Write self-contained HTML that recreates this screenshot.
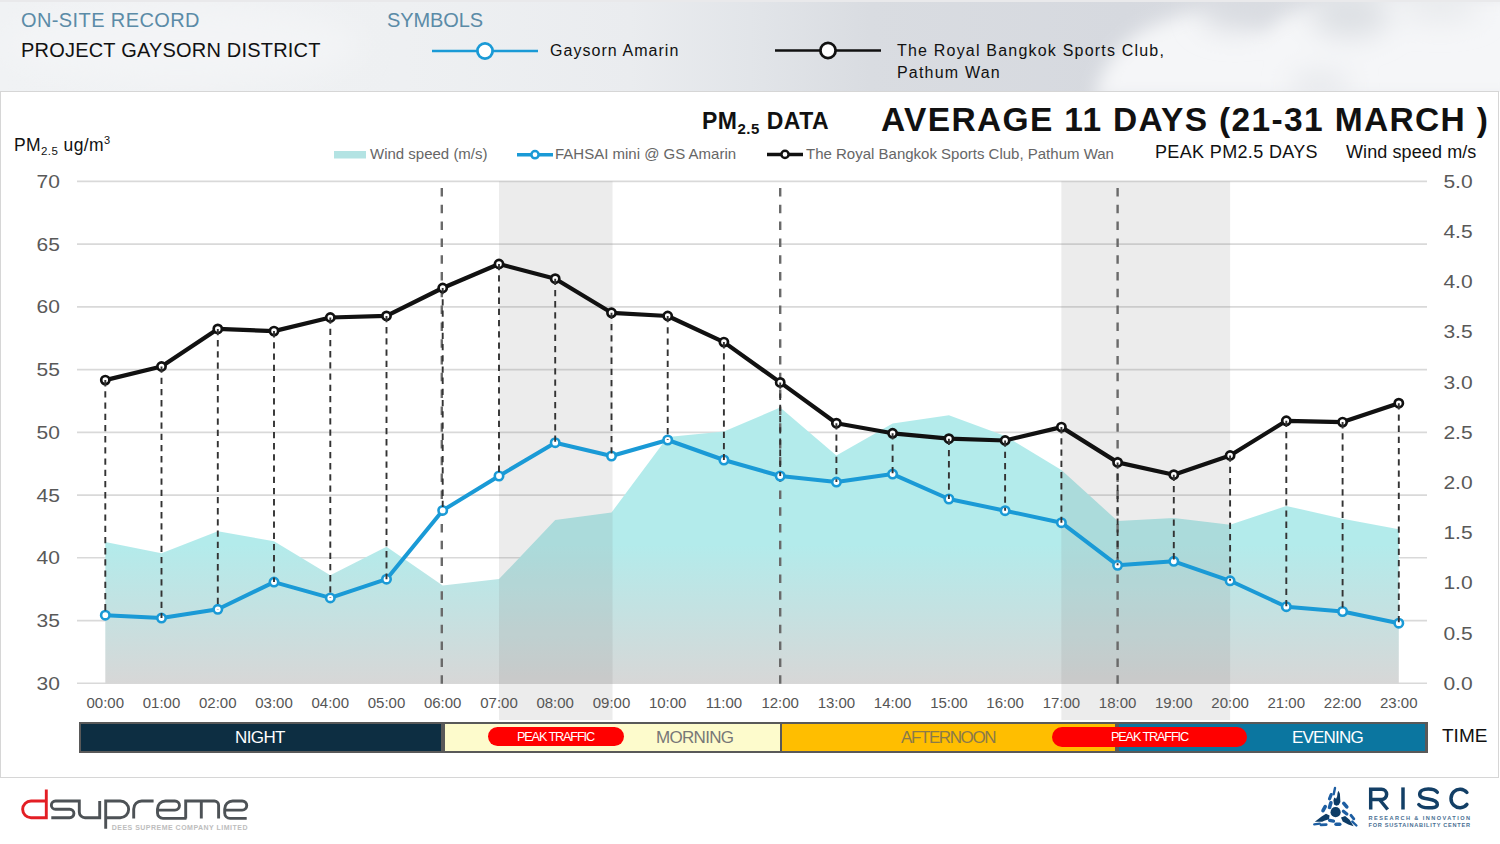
<!DOCTYPE html>
<html><head><meta charset="utf-8">
<style>
html,body{margin:0;padding:0;}
body{width:1500px;height:844px;position:relative;overflow:hidden;background:#fff;font-family:"Liberation Sans",sans-serif;}
.hdr{position:absolute;left:0;top:0;width:1500px;height:92px;}
.panel{position:absolute;left:0;top:91px;width:1496.6px;height:684.8px;border:1.7px solid #d6d6d6;background:#fff;}
.t{position:absolute;white-space:nowrap;}
svg.c{position:absolute;left:0;top:0;}
.yl{font-size:17.5px;fill:#595959;}
.xl{font-size:15px;fill:#555;}
</style></head><body>
<svg class="hdr" width="1500" height="92" viewBox="0 0 1500 92">
<defs>
<linearGradient id="hg" x1="0" y1="0" x2="1500" y2="0" gradientUnits="userSpaceOnUse">
<stop offset="0" stop-color="#f0f2f4"/><stop offset="0.27" stop-color="#eef0f2"/><stop offset="0.42" stop-color="#eaecef"/>
<stop offset="0.5" stop-color="#e2e5e9"/><stop offset="0.58" stop-color="#d9dce1"/><stop offset="0.75" stop-color="#d6d9df"/><stop offset="1" stop-color="#dfe1e5"/>
</linearGradient>
<filter id="bl" x="-50%" y="-50%" width="200%" height="200%"><feGaussianBlur stdDeviation="9"/></filter>
<filter id="bl2" x="-50%" y="-50%" width="200%" height="200%"><feGaussianBlur stdDeviation="14"/></filter>
</defs>
<rect width="1500" height="92" fill="url(#hg)"/>
<g filter="url(#bl)" fill="#f5f6f8">
<path d="M1095,100 C1100,60 1130,30 1170,20 C1200,5 1240,10 1260,30 C1290,10 1330,0 1380,-5 L1520,-5 L1520,100 Z"/>
</g>
<g filter="url(#bl2)">
<ellipse cx="1235" cy="12" rx="35" ry="18" fill="#d9dce1"/>
<ellipse cx="1350" cy="15" rx="40" ry="22" fill="#dcdfe3"/>
<ellipse cx="1440" cy="8" rx="40" ry="12" fill="#e6e8eb"/>
<ellipse cx="1320" cy="85" rx="30" ry="12" fill="#e4e6ea"/>
<ellipse cx="180" cy="45" rx="180" ry="40" fill="#f3f4f6"/>
</g>
<rect width="1500" height="2" fill="#e9e9eb"/>
</svg>
<div class="t" style="left:21px;top:8.5px;font-size:20px;color:#5b8ba7;letter-spacing:0.4px;">ON-SITE RECORD</div>
<div class="t" style="left:21px;top:39px;font-size:20px;color:#111;letter-spacing:0.2px;">PROJECT GAYSORN DISTRICT</div>
<div class="t" style="left:387px;top:9px;font-size:20px;color:#5b8ba7;letter-spacing:-0.1px;">SYMBOLS</div>
<div class="t" style="left:550px;top:42px;font-size:16px;color:#111;letter-spacing:1.05px;">Gaysorn Amarin</div>
<div class="t" style="left:897px;top:40px;font-size:16px;line-height:22.4px;color:#111;letter-spacing:1.2px;">The Royal Bangkok Sports Club,<br>Pathum Wan</div>
<div class="panel"></div>
<svg class="c" width="1500" height="844" viewBox="0 0 1500 844">
<line x1="432" y1="51" x2="538" y2="51" stroke="#1a9ad6" stroke-width="2.5"/>
<circle cx="485" cy="51" r="7.6" fill="#fff" stroke="#1a9ad6" stroke-width="2.8"/>
<line x1="775" y1="50.5" x2="881" y2="50.5" stroke="#111" stroke-width="2.5"/>
<circle cx="828" cy="50.5" r="7.6" fill="#fff" stroke="#111" stroke-width="2.8"/>
<defs><linearGradient id="wg" x1="0" y1="545" x2="0" y2="683.3" gradientUnits="userSpaceOnUse"><stop offset="0" stop-color="#b3ebeb"/><stop offset="1" stop-color="#d7d7d7"/></linearGradient></defs>
<line x1="77" y1="181.4" x2="1427" y2="181.4" stroke="#d9d9d9" stroke-width="1.6"/>
<line x1="77" y1="244.1" x2="1427" y2="244.1" stroke="#d9d9d9" stroke-width="1.6"/>
<line x1="77" y1="306.9" x2="1427" y2="306.9" stroke="#d9d9d9" stroke-width="1.6"/>
<line x1="77" y1="369.6" x2="1427" y2="369.6" stroke="#d9d9d9" stroke-width="1.6"/>
<line x1="77" y1="432.4" x2="1427" y2="432.4" stroke="#d9d9d9" stroke-width="1.6"/>
<line x1="77" y1="495.1" x2="1427" y2="495.1" stroke="#d9d9d9" stroke-width="1.6"/>
<line x1="77" y1="557.8" x2="1427" y2="557.8" stroke="#d9d9d9" stroke-width="1.6"/>
<line x1="77" y1="620.6" x2="1427" y2="620.6" stroke="#d9d9d9" stroke-width="1.6"/>
<line x1="77" y1="683.3" x2="1427" y2="683.3" stroke="#d9d9d9" stroke-width="1.6"/>
<polygon points="105.3,683.5999999999999 105.3,542.1 161.5,553.3 217.8,531.2 274.0,541.3 330.3,575.2 386.5,546.7 442.7,585.4 499.0,579.1 555.2,520.0 611.5,512.5 667.7,437.0 723.9,431.5 780.2,407.5 836.4,455.5 892.6,423.5 948.9,415.3 1005.1,436.0 1061.4,470.0 1117.6,521.0 1173.8,517.9 1230.1,524.8 1286.3,505.9 1342.6,518.7 1398.8,529.3 1398.8,683.5999999999999" fill="url(#wg)"/>
<rect x="499.0" y="181.4" width="113.5" height="538.6" fill="#808080" fill-opacity="0.15"/>
<rect x="1061.4" y="181.4" width="168.7" height="538.6" fill="#808080" fill-opacity="0.15"/>
<line x1="441.8" y1="188" x2="441.8" y2="685" stroke="#6a6a6a" stroke-width="2.4" stroke-dasharray="8.5 8.3"/>
<line x1="780.2" y1="188" x2="780.2" y2="685" stroke="#6a6a6a" stroke-width="2.4" stroke-dasharray="8.5 8.3"/>
<line x1="1117.6" y1="188" x2="1117.6" y2="685" stroke="#6a6a6a" stroke-width="2.4" stroke-dasharray="8.5 8.3"/>
<polyline points="105.3,615.2 161.5,618.1 217.8,609.3 274.0,582.1 330.3,597.9 386.5,579.2 442.7,510.4 499.0,476.0 555.2,442.7 611.5,456.0 667.7,440.0 723.9,460.0 780.2,476.0 836.4,482.1 892.6,474.1 948.9,499.0 1005.1,510.7 1061.4,522.7 1117.6,565.3 1173.8,561.3 1230.1,580.8 1286.3,606.7 1342.6,611.5 1398.8,623.2" fill="none" stroke="#1a9ad6" stroke-width="4" stroke-linejoin="round"/>
<polyline points="105.3,380.1 161.5,366.5 217.8,328.9 274.0,331.1 330.3,317.5 386.5,315.9 442.7,288.0 499.0,264.0 555.2,278.7 611.5,312.8 667.7,316.0 723.9,342.1 780.2,382.4 836.4,423.2 892.6,433.3 948.9,438.7 1005.1,440.5 1061.4,427.1 1117.6,462.4 1173.8,474.7 1230.1,455.5 1286.3,420.8 1342.6,422.1 1398.8,403.2" fill="none" stroke="#111" stroke-width="4.2" stroke-linejoin="round"/>
<circle cx="105.3" cy="615.2" r="4.2" fill="#fff" stroke="#1a9ad6" stroke-width="2.6"/>
<circle cx="105.3" cy="380.1" r="4.1" fill="#fff" stroke="#111" stroke-width="2.7"/>
<circle cx="161.5" cy="618.1" r="4.2" fill="#fff" stroke="#1a9ad6" stroke-width="2.6"/>
<circle cx="161.5" cy="366.5" r="4.1" fill="#fff" stroke="#111" stroke-width="2.7"/>
<circle cx="217.8" cy="609.3" r="4.2" fill="#fff" stroke="#1a9ad6" stroke-width="2.6"/>
<circle cx="217.8" cy="328.9" r="4.1" fill="#fff" stroke="#111" stroke-width="2.7"/>
<circle cx="274.0" cy="582.1" r="4.2" fill="#fff" stroke="#1a9ad6" stroke-width="2.6"/>
<circle cx="274.0" cy="331.1" r="4.1" fill="#fff" stroke="#111" stroke-width="2.7"/>
<circle cx="330.3" cy="597.9" r="4.2" fill="#fff" stroke="#1a9ad6" stroke-width="2.6"/>
<circle cx="330.3" cy="317.5" r="4.1" fill="#fff" stroke="#111" stroke-width="2.7"/>
<circle cx="386.5" cy="579.2" r="4.2" fill="#fff" stroke="#1a9ad6" stroke-width="2.6"/>
<circle cx="386.5" cy="315.9" r="4.1" fill="#fff" stroke="#111" stroke-width="2.7"/>
<circle cx="442.7" cy="510.4" r="4.2" fill="#fff" stroke="#1a9ad6" stroke-width="2.6"/>
<circle cx="442.7" cy="288.0" r="4.1" fill="#fff" stroke="#111" stroke-width="2.7"/>
<circle cx="499.0" cy="476.0" r="4.2" fill="#fff" stroke="#1a9ad6" stroke-width="2.6"/>
<circle cx="499.0" cy="264.0" r="4.1" fill="#fff" stroke="#111" stroke-width="2.7"/>
<circle cx="555.2" cy="442.7" r="4.2" fill="#fff" stroke="#1a9ad6" stroke-width="2.6"/>
<circle cx="555.2" cy="278.7" r="4.1" fill="#fff" stroke="#111" stroke-width="2.7"/>
<circle cx="611.5" cy="456.0" r="4.2" fill="#fff" stroke="#1a9ad6" stroke-width="2.6"/>
<circle cx="611.5" cy="312.8" r="4.1" fill="#fff" stroke="#111" stroke-width="2.7"/>
<circle cx="667.7" cy="440.0" r="4.2" fill="#fff" stroke="#1a9ad6" stroke-width="2.6"/>
<circle cx="667.7" cy="316.0" r="4.1" fill="#fff" stroke="#111" stroke-width="2.7"/>
<circle cx="723.9" cy="460.0" r="4.2" fill="#fff" stroke="#1a9ad6" stroke-width="2.6"/>
<circle cx="723.9" cy="342.1" r="4.1" fill="#fff" stroke="#111" stroke-width="2.7"/>
<circle cx="780.2" cy="476.0" r="4.2" fill="#fff" stroke="#1a9ad6" stroke-width="2.6"/>
<circle cx="780.2" cy="382.4" r="4.1" fill="#fff" stroke="#111" stroke-width="2.7"/>
<circle cx="836.4" cy="482.1" r="4.2" fill="#fff" stroke="#1a9ad6" stroke-width="2.6"/>
<circle cx="836.4" cy="423.2" r="4.1" fill="#fff" stroke="#111" stroke-width="2.7"/>
<circle cx="892.6" cy="474.1" r="4.2" fill="#fff" stroke="#1a9ad6" stroke-width="2.6"/>
<circle cx="892.6" cy="433.3" r="4.1" fill="#fff" stroke="#111" stroke-width="2.7"/>
<circle cx="948.9" cy="499.0" r="4.2" fill="#fff" stroke="#1a9ad6" stroke-width="2.6"/>
<circle cx="948.9" cy="438.7" r="4.1" fill="#fff" stroke="#111" stroke-width="2.7"/>
<circle cx="1005.1" cy="510.7" r="4.2" fill="#fff" stroke="#1a9ad6" stroke-width="2.6"/>
<circle cx="1005.1" cy="440.5" r="4.1" fill="#fff" stroke="#111" stroke-width="2.7"/>
<circle cx="1061.4" cy="522.7" r="4.2" fill="#fff" stroke="#1a9ad6" stroke-width="2.6"/>
<circle cx="1061.4" cy="427.1" r="4.1" fill="#fff" stroke="#111" stroke-width="2.7"/>
<circle cx="1117.6" cy="565.3" r="4.2" fill="#fff" stroke="#1a9ad6" stroke-width="2.6"/>
<circle cx="1117.6" cy="462.4" r="4.1" fill="#fff" stroke="#111" stroke-width="2.7"/>
<circle cx="1173.8" cy="561.3" r="4.2" fill="#fff" stroke="#1a9ad6" stroke-width="2.6"/>
<circle cx="1173.8" cy="474.7" r="4.1" fill="#fff" stroke="#111" stroke-width="2.7"/>
<circle cx="1230.1" cy="580.8" r="4.2" fill="#fff" stroke="#1a9ad6" stroke-width="2.6"/>
<circle cx="1230.1" cy="455.5" r="4.1" fill="#fff" stroke="#111" stroke-width="2.7"/>
<circle cx="1286.3" cy="606.7" r="4.2" fill="#fff" stroke="#1a9ad6" stroke-width="2.6"/>
<circle cx="1286.3" cy="420.8" r="4.1" fill="#fff" stroke="#111" stroke-width="2.7"/>
<circle cx="1342.6" cy="611.5" r="4.2" fill="#fff" stroke="#1a9ad6" stroke-width="2.6"/>
<circle cx="1342.6" cy="422.1" r="4.1" fill="#fff" stroke="#111" stroke-width="2.7"/>
<circle cx="1398.8" cy="623.2" r="4.2" fill="#fff" stroke="#1a9ad6" stroke-width="2.6"/>
<circle cx="1398.8" cy="403.2" r="4.1" fill="#fff" stroke="#111" stroke-width="2.7"/>
<line x1="105.3" y1="380.1" x2="105.3" y2="615.2" stroke="#333" stroke-width="1.9" stroke-dasharray="6.3 4.9"/>
<line x1="161.5" y1="366.5" x2="161.5" y2="618.1" stroke="#333" stroke-width="1.9" stroke-dasharray="6.3 4.9"/>
<line x1="217.8" y1="328.9" x2="217.8" y2="609.3" stroke="#333" stroke-width="1.9" stroke-dasharray="6.3 4.9"/>
<line x1="274.0" y1="331.1" x2="274.0" y2="582.1" stroke="#333" stroke-width="1.9" stroke-dasharray="6.3 4.9"/>
<line x1="330.3" y1="317.5" x2="330.3" y2="597.9" stroke="#333" stroke-width="1.9" stroke-dasharray="6.3 4.9"/>
<line x1="386.5" y1="315.9" x2="386.5" y2="579.2" stroke="#333" stroke-width="1.9" stroke-dasharray="6.3 4.9"/>
<line x1="442.7" y1="288.0" x2="442.7" y2="510.4" stroke="#333" stroke-width="1.9" stroke-dasharray="6.3 4.9"/>
<line x1="499.0" y1="264.0" x2="499.0" y2="476.0" stroke="#333" stroke-width="1.9" stroke-dasharray="6.3 4.9"/>
<line x1="555.2" y1="278.7" x2="555.2" y2="442.7" stroke="#333" stroke-width="1.9" stroke-dasharray="6.3 4.9"/>
<line x1="611.5" y1="312.8" x2="611.5" y2="456.0" stroke="#333" stroke-width="1.9" stroke-dasharray="6.3 4.9"/>
<line x1="667.7" y1="316.0" x2="667.7" y2="440.0" stroke="#333" stroke-width="1.9" stroke-dasharray="6.3 4.9"/>
<line x1="723.9" y1="342.1" x2="723.9" y2="460.0" stroke="#333" stroke-width="1.9" stroke-dasharray="6.3 4.9"/>
<line x1="780.2" y1="382.4" x2="780.2" y2="476.0" stroke="#333" stroke-width="1.9" stroke-dasharray="6.3 4.9"/>
<line x1="836.4" y1="423.2" x2="836.4" y2="482.1" stroke="#333" stroke-width="1.9" stroke-dasharray="6.3 4.9"/>
<line x1="892.6" y1="433.3" x2="892.6" y2="474.1" stroke="#333" stroke-width="1.9" stroke-dasharray="6.3 4.9"/>
<line x1="948.9" y1="438.7" x2="948.9" y2="499.0" stroke="#333" stroke-width="1.9" stroke-dasharray="6.3 4.9"/>
<line x1="1005.1" y1="440.5" x2="1005.1" y2="510.7" stroke="#333" stroke-width="1.9" stroke-dasharray="6.3 4.9"/>
<line x1="1061.4" y1="427.1" x2="1061.4" y2="522.7" stroke="#333" stroke-width="1.9" stroke-dasharray="6.3 4.9"/>
<line x1="1117.6" y1="462.4" x2="1117.6" y2="565.3" stroke="#333" stroke-width="1.9" stroke-dasharray="6.3 4.9"/>
<line x1="1173.8" y1="474.7" x2="1173.8" y2="561.3" stroke="#333" stroke-width="1.9" stroke-dasharray="6.3 4.9"/>
<line x1="1230.1" y1="455.5" x2="1230.1" y2="580.8" stroke="#333" stroke-width="1.9" stroke-dasharray="6.3 4.9"/>
<line x1="1286.3" y1="420.8" x2="1286.3" y2="606.7" stroke="#333" stroke-width="1.9" stroke-dasharray="6.3 4.9"/>
<line x1="1342.6" y1="422.1" x2="1342.6" y2="611.5" stroke="#333" stroke-width="1.9" stroke-dasharray="6.3 4.9"/>
<line x1="1398.8" y1="403.2" x2="1398.8" y2="623.2" stroke="#333" stroke-width="1.9" stroke-dasharray="6.3 4.9"/>
<text transform="translate(36.6,187.8) scale(1.2,1)" class="yl">70</text>
<text transform="translate(36.6,250.5) scale(1.2,1)" class="yl">65</text>
<text transform="translate(36.6,313.3) scale(1.2,1)" class="yl">60</text>
<text transform="translate(36.6,376.0) scale(1.2,1)" class="yl">55</text>
<text transform="translate(36.6,438.8) scale(1.2,1)" class="yl">50</text>
<text transform="translate(36.6,501.5) scale(1.2,1)" class="yl">45</text>
<text transform="translate(36.6,564.2) scale(1.2,1)" class="yl">40</text>
<text transform="translate(36.6,627.0) scale(1.2,1)" class="yl">35</text>
<text transform="translate(36.6,689.7) scale(1.2,1)" class="yl">30</text>
<text transform="translate(1443.4,187.8) scale(1.2,1)" class="yl">5.0</text>
<text transform="translate(1443.4,238.0) scale(1.2,1)" class="yl">4.5</text>
<text transform="translate(1443.4,288.2) scale(1.2,1)" class="yl">4.0</text>
<text transform="translate(1443.4,338.4) scale(1.2,1)" class="yl">3.5</text>
<text transform="translate(1443.4,388.6) scale(1.2,1)" class="yl">3.0</text>
<text transform="translate(1443.4,438.8) scale(1.2,1)" class="yl">2.5</text>
<text transform="translate(1443.4,488.9) scale(1.2,1)" class="yl">2.0</text>
<text transform="translate(1443.4,539.1) scale(1.2,1)" class="yl">1.5</text>
<text transform="translate(1443.4,589.3) scale(1.2,1)" class="yl">1.0</text>
<text transform="translate(1443.4,639.5) scale(1.2,1)" class="yl">0.5</text>
<text transform="translate(1443.4,689.7) scale(1.2,1)" class="yl">0.0</text>
<text x="105.3" y="708.2" text-anchor="middle" class="xl">00:00</text>
<text x="161.5" y="708.2" text-anchor="middle" class="xl">01:00</text>
<text x="217.8" y="708.2" text-anchor="middle" class="xl">02:00</text>
<text x="274.0" y="708.2" text-anchor="middle" class="xl">03:00</text>
<text x="330.3" y="708.2" text-anchor="middle" class="xl">04:00</text>
<text x="386.5" y="708.2" text-anchor="middle" class="xl">05:00</text>
<text x="442.7" y="708.2" text-anchor="middle" class="xl">06:00</text>
<text x="499.0" y="708.2" text-anchor="middle" class="xl">07:00</text>
<text x="555.2" y="708.2" text-anchor="middle" class="xl">08:00</text>
<text x="611.5" y="708.2" text-anchor="middle" class="xl">09:00</text>
<text x="667.7" y="708.2" text-anchor="middle" class="xl">10:00</text>
<text x="723.9" y="708.2" text-anchor="middle" class="xl">11:00</text>
<text x="780.2" y="708.2" text-anchor="middle" class="xl">12:00</text>
<text x="836.4" y="708.2" text-anchor="middle" class="xl">13:00</text>
<text x="892.6" y="708.2" text-anchor="middle" class="xl">14:00</text>
<text x="948.9" y="708.2" text-anchor="middle" class="xl">15:00</text>
<text x="1005.1" y="708.2" text-anchor="middle" class="xl">16:00</text>
<text x="1061.4" y="708.2" text-anchor="middle" class="xl">17:00</text>
<text x="1117.6" y="708.2" text-anchor="middle" class="xl">18:00</text>
<text x="1173.8" y="708.2" text-anchor="middle" class="xl">19:00</text>
<text x="1230.1" y="708.2" text-anchor="middle" class="xl">20:00</text>
<text x="1286.3" y="708.2" text-anchor="middle" class="xl">21:00</text>
<text x="1342.6" y="708.2" text-anchor="middle" class="xl">22:00</text>
<text x="1398.8" y="708.2" text-anchor="middle" class="xl">23:00</text>
<!-- legend -->
<rect x="334" y="151" width="32" height="7.5" fill="#b3e3e3"/>
<text x="370" y="159" class="lg">Wind speed (m/s)</text>
<line x1="517" y1="154.7" x2="553" y2="154.7" stroke="#1a9ad6" stroke-width="3.5"/>
<circle cx="535" cy="154.7" r="3.6" fill="#fff" stroke="#1a9ad6" stroke-width="2.5"/>
<text x="555" y="159" class="lg">FAHSAI mini @ GS Amarin</text>
<line x1="767" y1="154.4" x2="803" y2="154.4" stroke="#111" stroke-width="3.5"/>
<circle cx="785" cy="154.4" r="3.6" fill="#fff" stroke="#111" stroke-width="2.5"/>
<text x="806" y="159" class="lg">The Royal Bangkok Sports Club, Pathum Wan</text>
</svg>
<style>.lg{font-size:15px;fill:#666;}</style>
<div class="t" style="left:702px;top:107.5px;font-size:23px;font-weight:bold;color:#111;letter-spacing:0.5px;">PM<span style="font-size:15px;position:relative;top:5px;">2.5</span> DATA</div>
<div class="t" style="left:881px;top:101px;font-size:33.5px;font-weight:bold;color:#111;letter-spacing:1.35px;">AVERAGE 11 DAYS (21-31 MARCH )</div>
<div class="t" style="left:14px;top:135px;font-size:17.5px;color:#111;letter-spacing:0.4px;">PM<span style="font-size:11.5px;position:relative;top:4px;">2.5</span> ug/m<span style="font-size:11px;position:relative;top:-7px;">3</span></div>
<div class="t" style="left:1155px;top:142px;font-size:18px;color:#111;letter-spacing:0.35px;">PEAK PM2.5 DAYS</div>
<div class="t" style="left:1346px;top:142px;font-size:18px;color:#111;letter-spacing:0.1px;">Wind speed m/s</div>
<!-- time bar -->
<div style="position:absolute;left:79px;top:721.7px;width:1349px;height:31px;box-sizing:border-box;border:2.3px solid #595959;background:#595959;">
 <div style="position:absolute;left:0;top:0;width:360px;height:100%;background:#0d2e42;"></div>
 <div style="position:absolute;left:364px;top:0;width:334.5px;height:100%;background:#fdfbcc;"></div>
 <div style="position:absolute;left:700.9px;top:0;width:333.6px;height:100%;background:#ffbe00;"></div>
 <div style="position:absolute;left:1037.9px;top:0;width:306.5px;height:100%;background:#0b76a0;"></div>
</div>
<div class="t" style="left:235px;top:728px;font-size:17px;color:#fff;letter-spacing:-0.6px;">NIGHT</div>
<div class="t" style="left:656px;top:728px;font-size:17px;color:#777;letter-spacing:-0.7px;">MORNING</div>
<div class="t" style="left:901px;top:728px;font-size:17px;color:#8a7a4a;letter-spacing:-1.4px;">AFTERNOON</div>
<div class="t" style="left:1292px;top:728px;font-size:17px;color:#fff;letter-spacing:-0.8px;">EVENING</div>
<div style="position:absolute;left:488px;top:727px;width:136px;height:19px;border-radius:9.5px;background:#ff0000;"></div>
<div style="position:absolute;left:1052px;top:726.5px;width:195px;height:20px;border-radius:10px;background:#ff0000;"></div>
<div class="t" style="left:517px;top:729.5px;font-size:12.7px;color:#fff;letter-spacing:-1.15px;">PEAK TRAFFIC</div>
<div class="t" style="left:1111px;top:729.5px;font-size:12.7px;color:#fff;letter-spacing:-1.15px;">PEAK TRAFFIC</div>
<div class="t" style="left:1442px;top:725px;font-size:19px;color:#111;">TIME</div>

<svg class="c" width="1500" height="844" viewBox="0 0 1500 844">
<g fill="none" stroke-width="2.9" stroke-linecap="butt">
<path d="M46.3,789.5 V817.7 H31 A8.35,8.35 0 0 1 31,801 H46.3" stroke="#e31e24"/>
<g stroke="#4d5256">
<path d="M51.3,817.7 H69.7 A4.2,4.2 0 0 0 69.7,809.3 H55.5 A4.15,4.15 0 0 1 55.5,801 H79.3 V812 A5.7,5.7 0 0 0 85,817.7 H99.7 V801"/>
<path d="M105.7,828.7 V801 H120.3 A8.35,8.35 0 0 1 120.3,817.7 H105.7"/>
<path d="M133.7,818.4 V809 A8,8 0 0 1 141.7,801 H153.6"/>
<path d="M157.5,810.1 H174.9 A4.55,4.55 0 0 0 174.9,801 H165.5 A8,8 0 0 0 157.5,809 V813 A5.4,5.4 0 0 0 162.9,818.4 H186.5"/>
<path d="M185.7,818.4 V801 H214.4 A4.2,4.2 0 0 1 218.6,805.2 V818.4 M201.3,801 V818.4"/>
<path d="M224.7,810.1 H242.2 A4.5,4.5 0 0 0 242.2,801 H232.7 A8,8 0 0 0 224.7,809 V813 A5.4,5.4 0 0 0 230.1,818.4 H246.7"/>
</g></g>
<text x="111.7" y="829.7" font-size="7px" fill="#bdbdbd" textLength="135.8" lengthAdjust="spacing" font-weight="bold">DEES SUPREME COMPANY LIMITED</text>
<g fill="none" stroke="#133f66" stroke-width="3.5">
<path d="M1370.7,809.5 V789.2 H1381.5 A5.15,5.15 0 0 1 1381.5,799.5 H1370.7 M1379.5,799.5 L1387.7,809.5"/>
<path d="M1403,787.4 V809.5"/>
<path d="M1437.3,792.3 C1435.5,789.8 1432,789.1 1428.3,789.1 C1423,789.1 1419.7,791.3 1419.7,794.3 C1419.7,797.5 1423,798.3 1428.3,799.1 C1434,799.9 1437.3,801.1 1437.3,804.5 C1437.3,807.6 1433.5,807.8 1428.3,807.8 C1424,807.8 1420.7,806.8 1418.8,804.5" stroke-linecap="round"/>
<path d="M1466.9,792.5 A9,9.3 0 1 0 1466.9,804.4" stroke-linecap="round"/>
</g>
<text x="1368.5" y="819.5" font-size="5.6px" fill="#4a6f93" textLength="101.5" lengthAdjust="spacing" font-weight="bold">RESEARCH &amp; INNOVATION</text>
<text x="1368.5" y="826.5" font-size="5.6px" fill="#4a6f93" textLength="101.5" lengthAdjust="spacing" font-weight="bold">FOR SUSTAINABILITY CENTER</text>
<g fill="#0d3c66">
<circle cx="1335.6" cy="812.2" r="5.1"/>
<polygon points="1338.5,790.8 1339.9,793.8 1340.4,802 1338.7,804.9 1336.3,805.8 1334,804.4 1333.4,800.3 1334.3,797.4 1336.1,798.7 1337.1,796.5 1337.6,792.7"/>
<polygon points="1314.8,821.8 1321.6,816.5 1326,813.7 1329.6,815.4 1329,819.2 1324.3,820.8 1322.2,821.8"/>
<polygon points="1341,817.4 1345.1,815.9 1349.6,819.8 1353.6,826.3 1348.3,824.6 1342.7,821.4"/>
</g>
<g stroke="#1d5ea2" stroke-linecap="round">
<line x1="1335" y1="788" x2="1333.7" y2="794.2" stroke-width="2.4"/>
<line x1="1331.2" y1="794.6" x2="1329.5" y2="798.8" stroke-width="3.2"/>
<line x1="1330.9" y1="802.8" x2="1329.5" y2="807.4" stroke-width="3.6"/>
<line x1="1325.2" y1="806.6" x2="1323" y2="810.6" stroke-width="3.6"/>
<line x1="1343.8" y1="803.3" x2="1346.8" y2="806.8" stroke-width="3.6"/>
<line x1="1343.4" y1="811.3" x2="1346.8" y2="814" stroke-width="3.3"/>
<line x1="1351" y1="815.3" x2="1353.8" y2="818.8" stroke-width="2.9"/>
<line x1="1352.3" y1="821.6" x2="1356.4" y2="825.5" stroke-width="2.4"/>
<line x1="1329.6" y1="820.4" x2="1333.5" y2="821.2" stroke-width="3.3"/>
<line x1="1336" y1="824.3" x2="1339.8" y2="824.3" stroke-width="3.4"/>
<line x1="1321" y1="824.9" x2="1326.2" y2="824.6" stroke-width="2.8"/>
<line x1="1314.2" y1="824.4" x2="1319.8" y2="823.6" stroke-width="2.3"/>
</g>
</svg>
</body></html>
